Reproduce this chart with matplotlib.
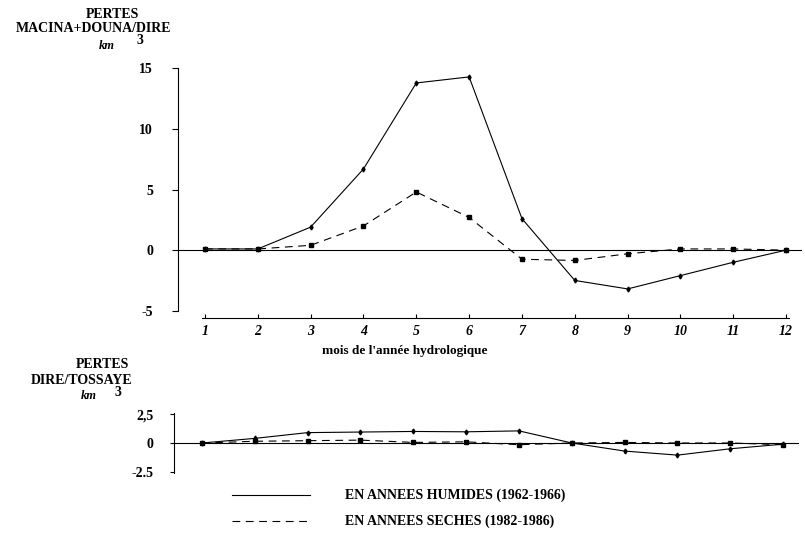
import numpy as np
import matplotlib.pyplot as plt

plt.rcParams['font.family'] = ['Liberation Serif', 'DejaVu Serif']

months = list(range(1, 13))

# MACINA + DOUNA / DIRE losses (km3)
humid_top = [0.1, 0.1, 1.9, 6.7, 13.8, 14.3, 2.6, -2.5, -3.2, -2.1, -1.0, 0.0]
dry_top = [0.1, 0.1, 0.4, 2.0, 4.8, 2.7, -0.75, -0.85, -0.3, 0.1, 0.1, 0.0]

# DIRE / TOSSAYE losses (km3)
humid_bot = [0.0, 0.4, 0.9, 0.95, 1.0, 0.97, 1.05, 0.0, -0.7, -1.05, -0.5, -0.1]
dry_bot = [0.0, 0.15, 0.2, 0.25, 0.05, 0.1, -0.15, 0.0, 0.05, 0.0, 0.0, -0.15]

top_yticks = [15, 10, 5, 0, -5]
bot_yticks = [2.5, 0, -2.5]
bot_ylabels = ['2,5', '0', '-2.5']

W, H = 805, 558
fig = plt.figure(figsize=(W / 100, H / 100), dpi=100)


def frac(x, y):
    return x / W, 1 - y / H


lw = 0.8
dash = (0, (7, 5))

# ---- top chart
ax = fig.add_axes([178 / W, 1 - 318 / H, 624 / W, 252 / H])
ax.set_xlim(0.49, 12.3)
ax.set_ylim(-5.6, 15.2)
ax.plot(months, humid_top, color='black', lw=lw, marker='d', ms=2.5)
ax.plot(months, dry_top, color='black', lw=lw, ls=dash, marker='s', ms=2.5)
ax.axhline(0, xmin=0, xmax=1, color='black', lw=0.8)
for s in ['top', 'right']:
    ax.spines[s].set_visible(False)
ax.spines['left'].set_bounds(-5, 15)
ax.spines['bottom'].set_bounds(0.95, 12.05)
ax.spines['left'].set_linewidth(0.8)
ax.spines['bottom'].set_linewidth(0.8)
ax.set_yticks(top_yticks)
ax.set_yticklabels([str(t) for t in top_yticks], fontweight='bold', fontsize=10)
ax.tick_params(axis='y', direction='out', length=4, width=0.8, pad=14)
ax.set_xticks(months)
ax.set_xticklabels([str(m) for m in months], fontstyle='italic', fontweight='bold', fontsize=10)
ax.tick_params(axis='x', direction='in', length=3, width=0.8, pad=5)

fig.text(*frac(405, 351), "mois de l'année hydrologique", fontsize=9.5, fontweight='bold',
         ha='center', va='center')

fig.text(*frac(112, 14), 'PERTES', fontsize=10, fontweight='bold', ha='center', va='center')
fig.text(*frac(94, 29), 'MACINA+DOUNA/DIRE', fontsize=10, fontweight='bold', ha='center', va='center')
fig.text(*frac(107, 46), 'km', fontsize=9, fontweight='bold', fontstyle='italic', ha='center', va='center')
fig.text(*frac(140, 41), '3', fontsize=10, fontweight='bold', ha='center', va='center')

# ---- bottom chart
bx = fig.add_axes([174 / W, 1 - 473 / H, 625 / W, 60 / H])
bx.set_xlim(0.47, 12.3)
bx.set_ylim(-2.6, 2.6)
bx.plot(months, humid_bot, color='black', lw=lw, marker='d', ms=2.5)
bx.plot(months, dry_bot, color='black', lw=lw, ls=dash, marker='s', ms=2.5)
bx.axhline(0, color='black', lw=0.8)
for s in ['top', 'right', 'bottom']:
    bx.spines[s].set_visible(False)
bx.spines['left'].set_linewidth(0.8)
bx.set_xticks([])
bx.set_yticks(bot_yticks)
bx.set_yticklabels(bot_ylabels, fontweight='bold', fontsize=10)
bx.tick_params(axis='y', direction='out', length=3, width=0.8, pad=12)

fig.text(*frac(102, 365), 'PERTES', fontsize=10, fontweight='bold', ha='center', va='center')
fig.text(*frac(82, 380), 'DIRE/TOSSAYE', fontsize=10, fontweight='bold', ha='center', va='center')
fig.text(*frac(89, 396), 'km', fontsize=9, fontweight='bold', fontstyle='italic', ha='center', va='center')
fig.text(*frac(118, 392), '3', fontsize=10, fontweight='bold', ha='center', va='center')

# ---- legend
fig.add_artist(plt.Line2D([232 / W, 310 / W], [1 - 495 / H] * 2, color='black', lw=lw))
fig.add_artist(plt.Line2D([232 / W, 310 / W], [1 - 521 / H] * 2, color='black', lw=lw, ls=dash))
fig.text(*frac(345, 495), 'EN ANNEES HUMIDES (1962-1966)', fontsize=10, fontweight='bold',
         ha='left', va='center')
fig.text(*frac(345, 521), 'EN ANNEES SECHES (1982-1986)', fontsize=10, fontweight='bold',
         ha='left', va='center')

fig.savefig('out.png', dpi=100)
